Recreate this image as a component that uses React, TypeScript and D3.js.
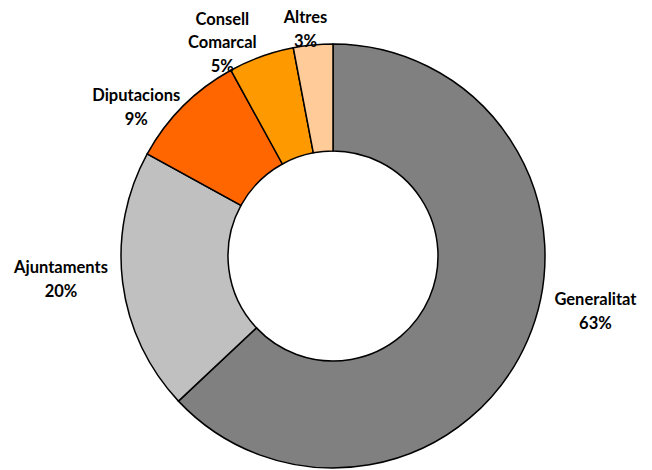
import * as d3 from "d3";
import React from "react";

// funding sources, share in percent
const categories = ["Generalitat", "Ajuntaments", "Diputacions", "Consell Comarcal", "Altres"];
const shares = [63, 20, 9, 5, 3];
const colors = ["#808080", "#c0c0c0", "#ff6600", "#ff9900", "#ffcc99"];
// label text broken into lines as in the picture
const labelLines = [["Generalitat"], ["Ajuntaments"], ["Diputacions"], ["Consell", "Comarcal"], ["Altres"]];

const W = 652;
const H = 470;
const cx = 333;
const cy = 256;
const outerR = 212;
const innerR = 105;
const labelR = 250;
const lineH = 23.5;
// nudges for the label blocks (first baseline), Excel-like outside placement
const nudges: [number, number][] = [
  [33, -50],
  [-24, -14],
  [-20, 22],
  [-26, 4],
  [-4, 16],
];

const App = () => {
  const pie = d3.pie<number>().sort(null).value((d) => d);
  const arcs = pie(shares);
  const arc = d3.arc<d3.PieArcDatum<number>>().innerRadius(innerR).outerRadius(outerR);
  const labelArc = d3.arc<d3.PieArcDatum<number>>().innerRadius(labelR).outerRadius(labelR);

  return (
    <svg width={W} height={H} style={{ position: "absolute", left: 0, top: 0 }}>
      <rect width={W} height={H} fill="#ffffff" />
      <g transform={`translate(${cx},${cy})`}>
        {arcs.map((a, i) => (
          <path key={categories[i]} d={arc(a) || ""} fill={colors[i]} stroke="#000" strokeWidth={1.5} />
        ))}
        {arcs.map((a, i) => {
          const [x, y] = labelArc.centroid(a);
          const lines = [...labelLines[i], `${shares[i]}%`];
          return (
            <text
              key={categories[i]}
              x={x + nudges[i][0]}
              y={y + nudges[i][1]}
              textAnchor="middle"
              fontFamily="Lato, 'Open Sans', sans-serif"
              fontWeight="bold"
              fontSize={16.5}
              fill="#000"
            >
              {lines.map((t, j) => (
                <tspan key={j} x={x + nudges[i][0]} dy={j === 0 ? 0 : lineH}>
                  {t}
                </tspan>
              ))}
            </text>
          );
        })}
      </g>
    </svg>
  );
};

export default App;
